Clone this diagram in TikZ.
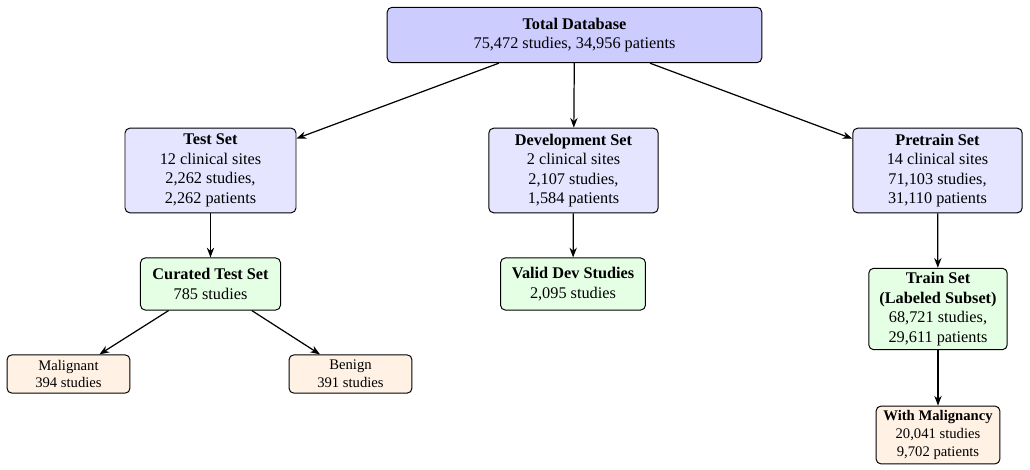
\documentclass[tikz,border=0pt]{standalone}
\usepackage{fontspec}
\setmainfont{Liberation Serif}
\usetikzlibrary{arrows.meta}
\begin{document}
\begin{tikzpicture}[x=0.614pt,y=-0.614pt,
  box/.style={draw, rounded corners=3pt, align=center, inner sep=0pt, line width=0.6pt, font=\normalsize},
  topbox/.style={box, fill=blue!20},
  setbox/.style={box, fill=blue!10},
  curbox/.style={box, fill=green!10},
  leafbox/.style={box, fill=orange!10, font=\small},
  conn/.style={-{Stealth[length=6pt,width=4.5pt]}, line width=0.75pt}]
\useasboundingbox (0,0) rectangle (1030,470);
\node[topbox, minimum width=230pt, minimum height=34pt] (total) at (574.5,35) {\textbf{Total Database}\\75,472 studies, 34,956 patients};
\node[setbox, minimum width=105pt, minimum height=52pt] (test) at (210.5,170.5) {\textbf{Test Set}\\12 clinical sites\\2,262 studies,\\2,262 patients};
\node[setbox, minimum width=104pt, minimum height=52pt] (dev) at (573.5,170.5) {\textbf{Development Set}\\2 clinical sites\\2,107 studies,\\1,584 patients};
\node[setbox, minimum width=104pt, minimum height=52pt] (pre) at (937.5,170.5) {\textbf{Pretrain Set}\\14 clinical sites\\71,103 studies,\\31,110 patients};
\node[curbox, minimum width=86pt, minimum height=32pt] (cur) at (210.5,284) {\textbf{Curated Test Set}\\785 studies};
\node[curbox, minimum width=89pt, minimum height=32pt] (valid) at (573,284) {\textbf{Valid Dev Studies}\\2,095 studies};
\node[curbox, minimum width=85pt, minimum height=50pt] (train) at (938,309) {\textbf{Train Set}\\\textbf{(Labeled Subset)}\\68,721 studies,\\29,611 patients};
\node[leafbox, minimum width=75.5pt, minimum height=23.5pt] (mal) at (68.5,374) {Malignant\\394 studies};
\node[leafbox, minimum width=75.5pt, minimum height=23.5pt] (ben) at (350.5,374) {Benign\\391 studies};
\node[leafbox, minimum width=76pt, minimum height=35.5pt] (wm) at (938,435) {\textbf{With Malignancy}\\20,041 studies\\9,702 patients};
\draw[conn] (total) -- (test);
\draw[conn] (total) -- (dev);
\draw[conn] (total) -- (pre);
\draw[conn] (test) -- (cur);
\draw[conn] (dev) -- (valid);
\draw[conn] (pre) -- (train);
\draw[conn] (cur) -- (mal);
\draw[conn] (cur) -- (ben);
\draw[conn] (train) -- (wm);
\end{tikzpicture}
\end{document}
